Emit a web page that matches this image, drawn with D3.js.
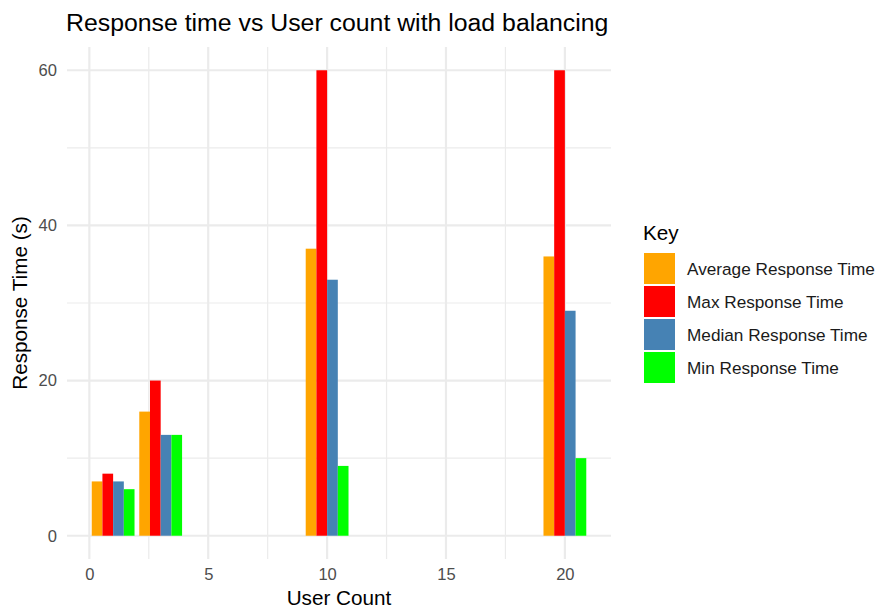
<!DOCTYPE html>
<html><head><meta charset="utf-8">
<script src="https://cdn.jsdelivr.net/npm/d3@7"></script>
<style>body{margin:0;background:#fff;} text{font-family:"Liberation Sans",Arial,sans-serif;}</style>
</head><body>
<svg id="chart" width="877" height="610"></svg>
<script>
const userCounts = [1, 3, 10, 20];
const seriesNames = ["Average Response Time", "Max Response Time", "Median Response Time", "Min Response Time"];
const seriesColors = ["#FFA500", "#FF0000", "#4682B4", "#00FF00"];
const avgValues = [7, 16, 37, 36];
const maxValues = [8, 20, 60, 60];
const medianValues = [7, 13, 33, 29];
const minValues = [6, 13, 9, 10];
const xTicks = [0, 5, 10, 15, 20];
const yTicks = [0, 20, 40, 60];
const xMinorTicks = [2.5, 7.5, 12.5, 17.5];
const yMinorTicks = [10, 30, 50];

const seriesValues = [avgValues, maxValues, medianValues, minValues];
const svg = d3.select("#chart");
const panel = {left: 67, right: 611, top: 47, bottom: 559};
const groupWidth = 1.8;
const x = d3.scaleLinear().domain([-0.94, 21.94]).range([panel.left, panel.right]);
const y = d3.scaleLinear().domain([-3, 63]).range([panel.bottom, panel.top]);

const base = 20.7;
// grid
const g = svg.append("g");
g.selectAll(".xmin").data(xMinorTicks).enter().append("line")
  .attr("x1", d => x(d)).attr("x2", d => x(d)).attr("y1", panel.top).attr("y2", panel.bottom)
  .attr("stroke", "#EBEBEB").attr("stroke-width", 1.2);
g.selectAll(".ymin").data(yMinorTicks).enter().append("line")
  .attr("y1", d => y(d)).attr("y2", d => y(d)).attr("x1", panel.left).attr("x2", panel.right)
  .attr("stroke", "#EBEBEB").attr("stroke-width", 1.2);
g.selectAll(".xmaj").data(xTicks).enter().append("line")
  .attr("x1", d => x(d)).attr("x2", d => x(d)).attr("y1", panel.top).attr("y2", panel.bottom)
  .attr("stroke", "#EBEBEB").attr("stroke-width", 2.2);
g.selectAll(".ymaj").data(yTicks).enter().append("line")
  .attr("y1", d => y(d)).attr("y2", d => y(d)).attr("x1", panel.left).attr("x2", panel.right)
  .attr("stroke", "#EBEBEB").attr("stroke-width", 2.2);

// bars
const n = seriesNames.length;
const bw = groupWidth / n;
seriesNames.forEach((name, si) => {
  svg.append("g").selectAll("rect").data(userCounts).enter().append("rect")
    .attr("x", (d) => x(d - groupWidth / 2 + si * bw))
    .attr("width", x(bw) - x(0))
    .attr("y", (d, i) => y(seriesValues[si][i]))
    .attr("height", (d, i) => y(0) - y(seriesValues[si][i]))
    .attr("fill", seriesColors[si]);
});

// axes labels
const xAxis = d3.axisBottom(x).tickValues(xTicks).tickSize(0).tickPadding(0);
const xg = svg.append("g").attr("transform", `translate(0,568)`).call(xAxis);
xg.select(".domain").remove();
xg.selectAll("text").attr("fill", "#4D4D4D").style("font-size", (base * 0.8) + "px").attr("dy", "0.71em");
const yAxis = d3.axisLeft(y).tickValues(yTicks).tickSize(0).tickPadding(0);
const yg = svg.append("g").attr("transform", `translate(${panel.left - 10},0)`).call(yAxis);
yg.select(".domain").remove();
yg.selectAll("text").attr("fill", "#4D4D4D").style("font-size", (base * 0.8) + "px");

svg.append("text").attr("x", (panel.left + panel.right) / 2).attr("y", 605)
  .attr("text-anchor", "middle").style("font-size", base + "px").attr("fill", "#000").text("User Count");
svg.append("text").attr("transform", `translate(27,${(panel.top + panel.bottom) / 2}) rotate(-90)`)
  .attr("text-anchor", "middle").style("font-size", base + "px").attr("fill", "#000").text("Response Time (s)");
svg.append("text").attr("x", 66).attr("y", 31).style("font-size", (base * 1.2) + "px").attr("fill", "#000")
  .text("Response time vs User count with load balancing");

// legend
const lg = svg.append("g").attr("transform", "translate(643,0)");
lg.append("text").attr("x", 0).attr("y", 239.5).style("font-size", base + "px").attr("fill", "#000").text("Key");
seriesNames.forEach((name, i) => {
  const yy = 253 + i * 33;
  lg.append("rect").attr("x", 1).attr("y", yy).attr("width", 31).attr("height", 31).attr("fill", seriesColors[i]);
  lg.append("text").attr("x", 44).attr("y", yy + 15.5).attr("dy", "0.35em")
    .style("font-size", "17.2px").attr("fill", "#1A1A1A").text(name);
});
</script>
</body></html>
